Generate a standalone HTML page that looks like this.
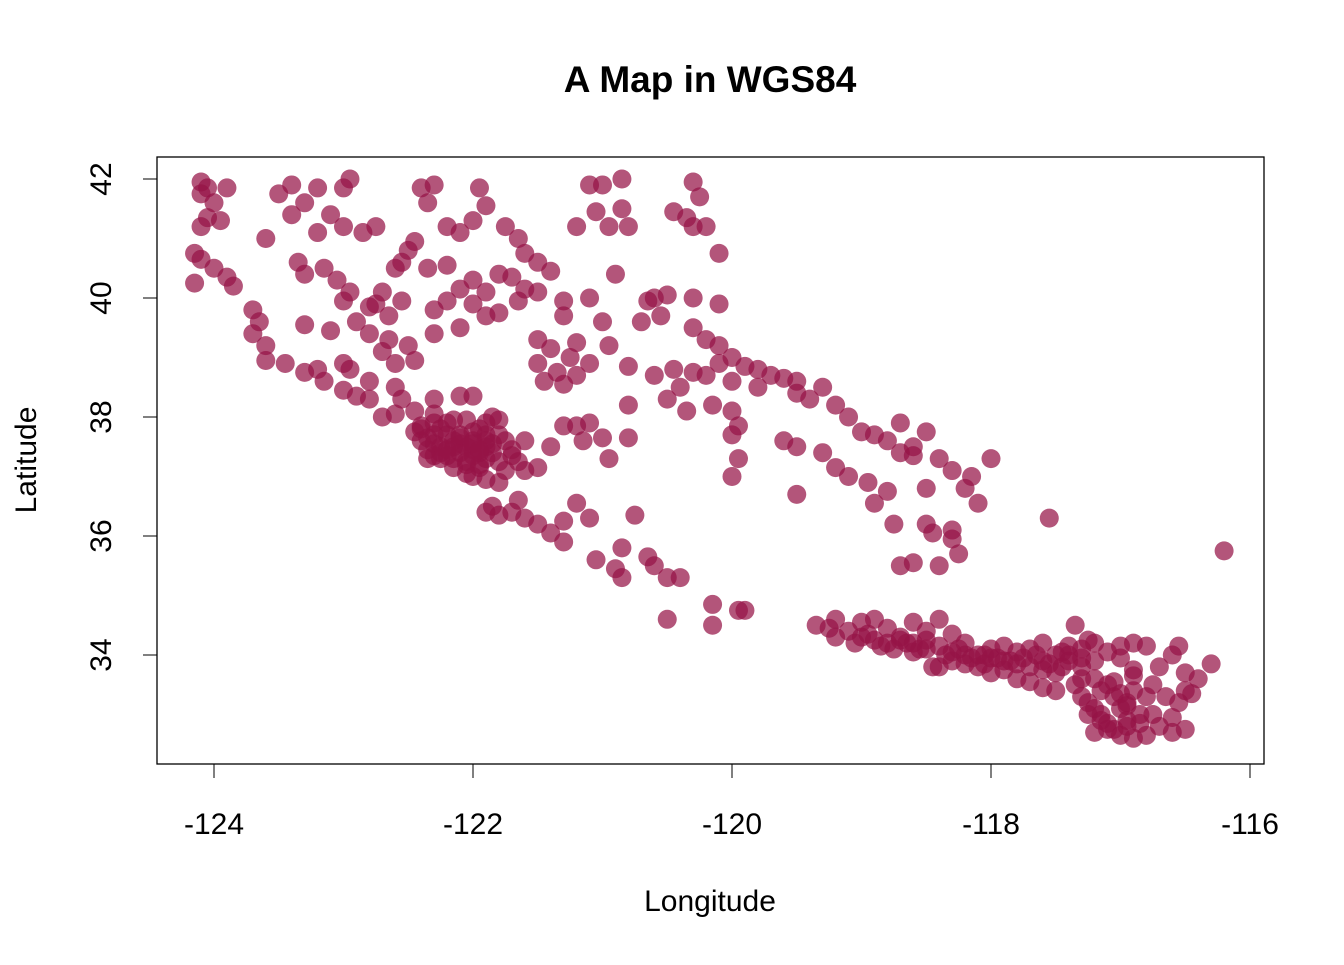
<!DOCTYPE html>
<html><head><meta charset="utf-8"><style>
body{margin:0;background:#fff;}
svg text{font-family:"Liberation Sans",Arial,sans-serif;fill:#000;}
</style></head><body>
<svg id="chart" width="1344" height="960">
<text x="710" y="92" text-anchor="middle" font-size="37" font-weight="bold">A Map in WGS84</text>
<rect x="157" y="157" width="1107" height="607" fill="none" stroke="#000" stroke-width="1.3"/>
<g id="points"></g>
<g id="xaxis"></g>
<g id="yaxis"></g>
<text x="710" y="911" text-anchor="middle" font-size="30">Longitude</text>
<text transform="translate(36,460) rotate(-90)" text-anchor="middle" font-size="30">Latitude</text>
</svg>
<script>
const xTicks=[-124,-122,-120,-118,-116];
const yTicks=[34,36,38,40,42];
const lon=[-124.1,-124.05,-124.1,-124.0,-124.05,-123.95,-124.1,-124.15,-124.1,-124.0,-123.9,-124.15,-123.85,-123.7,-123.65,-123.7,-123.6,-123.6,-123.45,-123.3,-123.15,-123.0,-123.9,-123.3,
-123.5,-123.4,-123.3,-123.2,-123.0,-122.95,-123.1,-123.0,-122.85,-123.2,-123.4,-123.6,-123.35,-123.3,-123.15,-123.05,-122.95,-122.8,-122.7,-122.6,-122.5,-122.4,-122.35,-122.3,-122.75,-122.55,-122.35,-122.2,-122.1,-122.0,-121.9,-121.95,-121.75,-122.2,-122.45,-123.0,-123.1,
-122.1,-122.0,-121.9,-121.8,-121.7,-122.2,-122.3,-122.0,-121.9,-121.8,-121.65,-121.6,-121.5,-121.4,-121.5,-121.3,-121.1,-121.3,-121.0,-121.2,-121.4,-121.5,-121.5,-121.45,-121.3,-121.35,-121.2,-121.25,-121.1,-122.1,-122.3,-121.65,-121.6,
-122.9,-122.8,-122.65,-122.7,-122.6,-122.45,-122.8,-122.6,-122.55,-122.8,-122.7,-122.6,-122.95,-122.9,-123.2,-123.0,-122.45,-122.3,-122.5,-122.65,-122.75,-122.55,
-122.4,-122.3,-122.25,-122.2,-122.1,-122.0,-121.9,-122.1,-122.0,-121.9,-121.85,-122.2,-122.3,-122.4,-122.45,-122.2,-122.05,-121.95,-121.8,-121.75,-121.9,-122.0,-122.15,-122.05,-121.95,-121.8,-121.7,-121.75,-121.6,-121.5,-122.1,-122.0,-121.9,-122.3,-122.35,-122.15,-122.3,-121.6,-121.9,-121.85,-122.1,-122.0,-121.8,
-122.35,-122.25,-122.15,-122.05,-121.95,-121.85,-122.25,-122.15,-122.05,-121.95,-122.3,-122.2,-122.1,-122.0,-122.25,-122.15,-121.95,-122.05,-122.4,-122.35,-121.7,-121.65,
-122.0,-121.9,-121.8,-121.85,-121.9,-121.8,-121.7,-121.6,-121.5,-121.4,-121.3,-121.3,-121.2,-121.1,-121.05,-120.85,-120.9,-120.85,-120.75,-120.65,-120.6,-120.5,-120.4,-120.5,-120.15,-120.15,-119.9,-119.95,-121.65,
-121.3,-121.1,-121.15,-121.0,-120.95,-121.4,-121.2,-120.8,-120.8,-120.8,-120.95,-120.7,-120.65,-120.55,-120.5,-120.3,-120.1,-120.3,-120.2,-120.1,-120.0,-120.1,-119.9,-119.8,-119.7,-119.6,-119.5,-119.8,-120.0,-120.2,-120.3,-120.45,-120.6,-120.4,-120.5,-120.35,-120.15,-120.0,-119.95,-120.0,-119.95,-120.0,-119.5,-119.3,-119.4,-119.2,-119.1,-119.0,-118.9,-118.8,-118.7,-118.6,-118.4,-118.3,-118.2,-118.1,-119.6,-119.5,-119.3,-119.2,-119.1,-118.95,-118.8,-119.5,-118.9,-118.75,-118.5,-118.45,-118.3,-118.25,-118.4,-118.6,-118.7,-118.5,-118.7,-118.6,-118.3,-118.15,-118.5,-118.0,-117.55,-116.2,
-121.1,-121.0,-120.85,-121.05,-120.95,-120.85,-120.8,-121.2,-120.45,-120.35,-120.3,-120.25,-120.3,-120.2,-120.1,-120.9,-120.6,
-119.35,-119.25,-119.2,-119.1,-119.0,-118.95,-118.9,-118.8,-118.7,-118.6,-118.5,-118.4,-118.3,-119.05,-118.85,-118.75,-119.2,
-118.5,-118.4,-118.3,-118.2,-118.1,-118.0,-117.9,-117.8,-117.7,-117.6,-117.5,-117.4,-117.3,-117.2,-117.1,-117.0,-116.9,-116.8,-116.7,-116.6,-116.55,-116.5,-116.4,-116.3,-116.45,-116.55,-118.4,-118.3,-118.2,-118.1,-118.0,-117.9,-117.8,-117.7,-117.6,-117.5,-117.3,-117.25,-117.2,-117.15,-117.1,-117.05,-117.0,-116.9,-116.8,-116.7,-116.6,-116.5,-116.6,-116.85,-116.95,-117.0,-117.1,-117.2,-117.3,-117.4,-117.2,-117.0,-116.9,-116.75,-116.8,-117.0,-117.2,-117.15,-116.95,-117.35,-117.25,-118.45,-118.6,-118.5,-118.65,-118.2,-118.0,-117.9,-117.7,-117.6,-117.8,-118.05,-117.5,-117.35,-116.9,-116.5,-116.65,
-119.0,-118.9,-118.8,-118.7,-118.6,-118.55,-118.35,-118.25,-118.15,-118.05,-117.95,-117.85,-117.75,-117.65,-117.55,-117.45,-117.4,-117.3,-117.15,-117.05,-116.95,-117.25,-117.1,-116.95,-116.85,-116.75,-117.05,-116.9,-117.3,-117.45,-117.6];
const lat=[41.95,41.85,41.75,41.6,41.35,41.3,41.2,40.75,40.65,40.5,40.35,40.25,40.2,39.8,39.6,39.4,39.2,38.95,38.9,38.75,38.6,38.45,41.85,39.55,
41.75,41.9,41.6,41.85,41.85,42.0,41.4,41.2,41.1,41.1,41.4,41.0,40.6,40.4,40.5,40.3,40.1,39.85,40.1,40.5,40.8,41.85,41.6,41.9,41.2,40.6,40.5,40.55,41.1,41.3,41.55,41.85,41.2,41.2,40.95,39.95,39.45,
40.15,40.3,40.1,40.4,40.35,39.95,39.8,39.9,39.7,39.75,39.95,40.15,40.6,40.45,40.1,39.95,40.0,39.7,39.6,39.25,39.15,39.3,38.9,38.6,38.55,38.75,38.7,39.0,38.9,39.5,39.4,41.0,40.75,
39.6,39.4,39.3,39.1,38.9,38.95,38.6,38.5,38.3,38.3,38.0,38.05,38.8,38.35,38.8,38.9,38.1,38.3,39.2,39.7,39.9,39.95,
37.8,37.9,37.8,37.7,37.65,37.6,37.5,37.4,37.35,37.3,37.4,37.45,37.55,37.6,37.75,37.9,37.95,37.8,37.7,37.6,37.7,37.75,37.3,37.2,37.15,37.25,37.35,37.1,37.1,37.15,37.55,37.45,37.6,37.35,37.45,37.95,38.05,37.6,37.9,38.0,38.35,38.35,37.95,
37.65,37.5,37.5,37.5,37.4,37.55,37.3,37.6,37.25,37.2,37.7,37.35,37.7,37.55,37.4,37.15,37.45,37.05,37.85,37.3,37.45,37.25,
37.0,36.95,36.9,36.5,36.4,36.35,36.4,36.3,36.2,36.05,35.9,36.25,36.55,36.3,35.6,35.8,35.45,35.3,36.35,35.65,35.5,35.3,35.3,34.6,34.85,34.5,34.75,34.75,36.6,
37.85,37.9,37.6,37.65,37.3,37.5,37.85,37.65,38.2,38.85,39.2,39.6,39.95,39.7,40.05,40.0,39.9,39.5,39.3,39.2,39.0,38.9,38.85,38.8,38.7,38.65,38.6,38.5,38.6,38.7,38.75,38.8,38.7,38.5,38.3,38.1,38.2,38.1,37.85,37.7,37.3,37.0,38.4,38.5,38.3,38.2,38.0,37.75,37.7,37.6,37.4,37.35,37.3,37.1,36.8,36.55,37.6,37.5,37.4,37.15,37.0,36.9,36.75,36.7,36.55,36.2,36.2,36.05,35.95,35.7,35.5,35.55,35.5,37.75,37.9,37.5,36.1,37.0,36.8,37.3,36.3,35.75,
41.9,41.9,42.0,41.45,41.2,41.5,41.2,41.2,41.45,41.35,41.2,41.7,41.95,41.2,40.75,40.4,40.0,
34.5,34.45,34.6,34.4,34.55,34.35,34.6,34.45,34.3,34.55,34.4,34.6,34.35,34.2,34.15,34.1,34.3,
34.1,34.15,34.05,34.2,34.0,34.1,34.15,34.05,34.1,34.2,34.0,34.15,34.1,34.2,34.05,34.15,34.2,34.15,33.8,34.0,34.15,33.7,33.6,33.85,33.35,33.2,33.8,33.9,33.85,33.8,33.7,33.75,33.6,33.55,33.45,33.4,33.3,33.2,33.1,33.0,32.85,32.75,32.65,32.6,32.65,32.8,32.7,32.75,32.95,33.0,33.2,33.35,33.5,33.6,33.8,33.9,33.9,33.95,33.75,33.5,33.3,33.1,32.7,32.9,32.8,34.5,34.25,33.8,34.05,34.25,34.2,34.0,33.95,33.9,33.8,33.9,33.85,33.85,33.7,33.5,33.4,33.4,33.3,
34.3,34.25,34.2,34.25,34.2,34.1,34.0,34.1,33.95,34.0,33.95,33.9,33.95,34.0,33.85,33.8,34.0,33.6,33.4,33.3,33.15,33.0,32.75,32.9,32.85,33.0,33.55,33.65,33.95,34.05,33.75];
const X0=-124,XS=129.5,XP=214,Y0=42,YS=59.5,YP=179;
function sx(v){return XP+(v-X0)*XS;}
function sy(v){return YP+(Y0-v)*YS;}
const NS="http://www.w3.org/2000/svg";
const pg=document.getElementById('points');
for(let i=0;i<lon.length;i++){
 const c=document.createElementNS(NS,'circle');
 c.setAttribute('cx',sx(lon[i]));c.setAttribute('cy',sy(lat[i]));c.setAttribute('r',9.5);
 c.setAttribute('fill','rgb(150,20,70)');c.setAttribute('fill-opacity','0.72');
 
 
 pg.appendChild(c);
}
const xg=document.getElementById('xaxis');
let l=document.createElementNS(NS,'line');
l.setAttribute('x1',sx(xTicks[0]));l.setAttribute('x2',sx(xTicks[xTicks.length-1]));l.setAttribute('y1',764);l.setAttribute('y2',764);l.setAttribute('stroke','#000');


xg.appendChild(l);
xTicks.forEach(t=>{
 const k=document.createElementNS(NS,'line');
 k.setAttribute('x1',sx(t));k.setAttribute('x2',sx(t));k.setAttribute('y1',764);k.setAttribute('y2',778);k.setAttribute('stroke','#000');
 
 
 xg.appendChild(k);
 const tx=document.createElementNS(NS,'text');
 tx.setAttribute('x',sx(t));tx.setAttribute('y',834);tx.setAttribute('text-anchor','middle');tx.setAttribute('font-size','30');
 tx.textContent=String(t);
 
 
 xg.appendChild(tx);
});
const yg=document.getElementById('yaxis');
l=document.createElementNS(NS,'line');
l.setAttribute('x1',157);l.setAttribute('x2',157);l.setAttribute('y1',sy(yTicks[0]));l.setAttribute('y2',sy(yTicks[yTicks.length-1]));l.setAttribute('stroke','#000');


yg.appendChild(l);
yTicks.forEach(t=>{
 const k=document.createElementNS(NS,'line');
 k.setAttribute('x1',143);k.setAttribute('x2',157);k.setAttribute('y1',sy(t));k.setAttribute('y2',sy(t));k.setAttribute('stroke','#000');
 
 
 yg.appendChild(k);
 const tx=document.createElementNS(NS,'text');
 tx.setAttribute('transform','translate(111,'+sy(t)+') rotate(-90)');tx.setAttribute('text-anchor','middle');tx.setAttribute('font-size','30');
 tx.textContent=String(t);
 
 
 yg.appendChild(tx);
});
</script>
</body></html>
